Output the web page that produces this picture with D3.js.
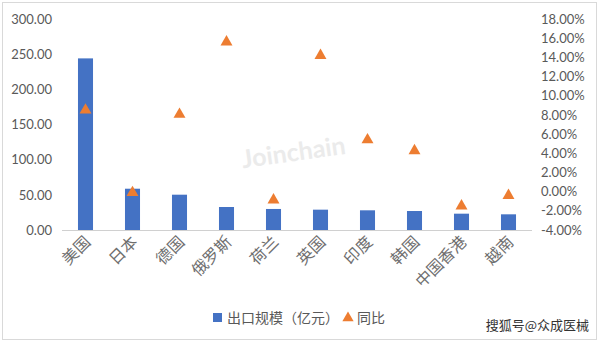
<!DOCTYPE html>
<html><head><meta charset="utf-8">
<script src="https://cdn.jsdelivr.net/npm/d3@7"></script>
<style>
html,body{margin:0;padding:0;background:#fff;}
svg{display:block;}
</style></head>
<body>
<script>
const categories = ["美国","日本","德国","俄罗斯","荷兰","英国","印度","韩国","中国香港","越南"];
const exportValues = [244, 58.7, 50.2, 32.7, 29.9, 28.9, 28.0, 27.0, 23.2, 22.3];
const yoyValues = [8.5, -0.1, 8.06, 15.6, -0.87, 14.2, 5.4, 4.27, -1.5, -0.4];
const leftTicks = [0, 50, 100, 150, 200, 250, 300];
const rightTicks = [-4, -2, 0, 2, 4, 6, 8, 10, 12, 14, 16, 18];
const legendLabels = ["出口规模（亿元）", "同比"];

const W = 600, H = 342;
const barColor = "#4472C4", triColor = "#ED7D31", txt = "#595959";
const font = "Lato, 'Noto Sans CJK SC', sans-serif";
const cjk = "'Noto Sans CJK SC', sans-serif";

const svg = d3.select("body").append("svg").attr("width", W).attr("height", H);
svg.append("rect").attr("x", 0).attr("y", 0).attr("width", W).attr("height", H).attr("fill", "#fff");
svg.append("rect").attr("x", 2.5).attr("y", 2.5).attr("width", 594).attr("height", 337)
  .attr("fill", "none").attr("stroke", "#d9d9d9").attr("stroke-width", 1);

const x = d3.scaleBand().domain(categories).range([62, 532]).paddingInner(0.68).paddingOuter(0.34);
const yL = d3.scaleLinear().domain([0, 300]).range([230, 19]);
const yR = d3.scaleLinear().domain([-4, 18]).range([230, 19]);

// watermark
svg.append("text").attr("x", 294).attr("y", 161).attr("text-anchor", "middle")
  .attr("transform", "rotate(-8,294,155)")
  .attr("font-family", "Lato, 'DejaVu Sans', sans-serif").attr("font-weight", "bold")
  .attr("font-size", 25).attr("fill", "#ebebeb").text("Joinchain");

// left axis
const la = svg.append("g").attr("transform", "translate(62,0)")
  .call(d3.axisLeft(yL).tickValues(leftTicks).tickSize(0).tickPadding(10).tickFormat(d3.format(".2f")));
la.select(".domain").remove();
la.selectAll("text").attr("font-family", font).attr("font-size", 13).attr("fill", txt);

// right axis
const ra = svg.append("g").attr("transform", "translate(532,0)")
  .call(d3.axisRight(yR).tickValues(rightTicks).tickSize(0).tickPadding(9).tickFormat(d => d.toFixed(2) + "%"));
ra.select(".domain").remove();
ra.selectAll("text").attr("font-family", font).attr("font-size", 13).attr("fill", txt);

// bars
svg.append("g").selectAll("rect").data(categories).join("rect")
  .attr("x", (d) => x(d)).attr("width", x.bandwidth())
  .attr("y", (d, i) => yL(exportValues[i])).attr("height", (d, i) => yL(0) - yL(exportValues[i]))
  .attr("fill", barColor);

// baseline
svg.append("line").attr("x1", 62).attr("x2", 532).attr("y1", yL(0) + 0.5).attr("y2", yL(0) + 0.5)
  .attr("stroke", "#d0d0d0").attr("stroke-width", 1);

// triangles
const tri = d3.symbol().type(d3.symbolTriangle).size(62);
svg.append("g").selectAll("path").data(categories).join("path")
  .attr("d", tri)
  .attr("transform", (d, i) => `translate(${x(d) + x.bandwidth() / 2},${yR(yoyValues[i])})`)
  .attr("fill", triColor);

// x labels
svg.append("g").selectAll("text").data(categories).join("text")
  .attr("transform", d => `translate(${x(d) + x.bandwidth() / 2 + 6},${243}) rotate(-45)`)
  .attr("text-anchor", "end").attr("font-family", cjk).attr("font-size", 16).attr("fill", "#6e6e6e")
  .text(d => d);

// legend
const lg = svg.append("g");
lg.append("rect").attr("x", 213).attr("y", 313).attr("width", 9).attr("height", 9).attr("fill", barColor);
lg.append("text").attr("x", 227).attr("y", 323).attr("font-family", cjk).attr("font-size", 14)
  .attr("fill", txt).text(legendLabels[0]);
lg.append("path").attr("d", d3.symbol().type(d3.symbolTriangle).size(55))
  .attr("transform", "translate(348,318)").attr("fill", triColor);
lg.append("text").attr("x", 357).attr("y", 323).attr("font-family", cjk).attr("font-size", 14)
  .attr("fill", txt).text(legendLabels[1]);

// source
svg.append("text").attr("x", 589).attr("y", 330).attr("text-anchor", "end")
  .attr("font-family", cjk).attr("font-size", 13).attr("fill", "#333").text("搜狐号@众成医械");
</script>
</body></html>
